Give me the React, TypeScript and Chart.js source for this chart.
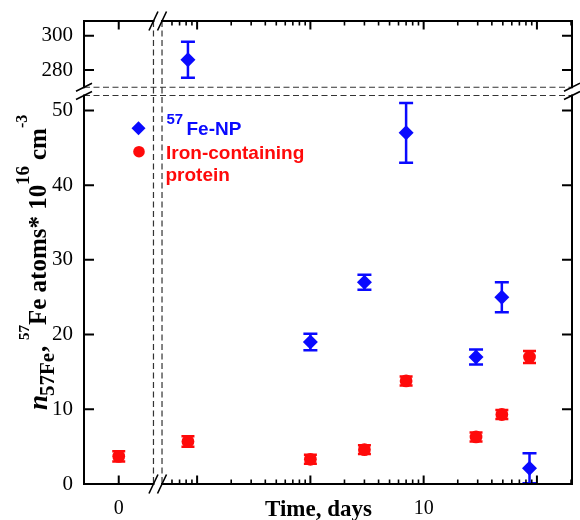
import { useEffect, useRef } from "react";
import { Chart, registerables } from "chart.js";

Chart.register(...registerables);

// ---------- data ----------
const npDays = [0.083, 1, 3, 7, 29, 49, 86];
const npValues = [286, 19, 27, 47, 17, 25, 2.1];
const npErrors = [10.5, 1.1, 1.0, 4.0, 1.0, 2.0, 2.0];

const proteinDays = [0, 0.083, 1, 3, 7, 29, 49, 86];
const proteinValues = [3.7, 5.7, 3.3, 4.6, 13.8, 6.3, 9.3, 17.0];
const proteinErrors = [0.7, 0.7, 0.6, 0.6, 0.6, 0.6, 0.6, 0.8];

const yTopTicks = [280, 300];
const yBottomTicks = [0, 10, 20, 30, 40, 50];
const xLinearTicks = [0];
const xLinearTickLabels = ["0"];
const xLogTicks = [0.1, 1, 10, 100];
const xLogTickLabels = ["", "", "10", ""];

const legendNpSup = "57";
const legendNpText = "Fe-NP";
const legendProteinLines = ["Iron-containing", "protein"];
const xTitle = "Time, days";

// axis ranges / breaks
const Y_TOP_MIN = 267.8;
const Y_TOP_MAX = 308.6;
const Y_TOP_BREAK = 270;
const Y_BOT_MIN = 0;
const Y_BOT_MAX = 52.6;
const Y_BOT_BREAK = 52;
const X_LIN_MIN = -1;
const X_LIN_MAX = 1.116;
const X_LIN_BREAK = 1;
const X_LOG_MIN = 0.0447;
const X_LOG_MAX = 204;
const X_LOG_BREAK = 0.049;
const Y_SPLIT = 100;

const BLUE = "#0a0aff";
const RED = "#ff0a0a";
const SERIF = '"Liberation Serif", "Times New Roman", serif';
const SANS = '"Liberation Sans", Arial, sans-serif';

type P = { x: number; y: number; e: number };
const npPoints: P[] = npDays.map((d, i) => ({ x: d, y: npValues[i], e: npErrors[i] }));
const proteinPoints: P[] = proteinDays.map((d, i) => ({ x: d, y: proteinValues[i], e: proteinErrors[i] }));

const npMarker = { pointStyle: "rectRot", pointRadius: 7.5, pointHoverRadius: 7.5, backgroundColor: BLUE, borderColor: BLUE, borderWidth: 0, capHalf: 7 };
const proteinMarker = { pointStyle: "circle", pointRadius: 6.4, pointHoverRadius: 6.4, backgroundColor: RED, borderColor: RED, borderWidth: 0, capHalf: 6.5 };

const datasets: any[] = [
  { label: "np-top", data: npPoints.filter((p) => p.y > Y_SPLIT), xAxisID: "xlog", yAxisID: "ytop", ...npMarker },
  { label: "np-bottom", data: npPoints.filter((p) => p.y <= Y_SPLIT), xAxisID: "xlog", yAxisID: "ybot", ...npMarker },
  { label: "protein-zero", data: proteinPoints.filter((p) => p.x === 0), xAxisID: "xlin", yAxisID: "ybot", ...proteinMarker },
  { label: "protein-log", data: proteinPoints.filter((p) => p.x > 0), xAxisID: "xlog", yAxisID: "ybot", ...proteinMarker },
];

const framePlugin = {
  id: "brokenFrame",
  beforeDatasetsDraw(chart: any) {
    const ctx = chart.ctx as CanvasRenderingContext2D;
    const { left, right, top, bottom } = chart.chartArea;
    const s = chart.scales;
    const gx1 = s.xlin.getPixelForValue(X_LIN_BREAK);
    const gx2 = s.xlog.getPixelForValue(X_LOG_BREAK);
    const gy1 = s.ytop.getPixelForValue(Y_TOP_BREAK);
    const gy2 = s.ybot.getPixelForValue(Y_BOT_BREAK);
    ctx.save();
    ctx.setLineDash([6, 3.5]);
    ctx.lineWidth = 1.2;
    ctx.strokeStyle = "#333";
    ctx.beginPath();
    for (const gx of [gx1, gx2]) {
      ctx.moveTo(gx, top);
      ctx.lineTo(gx, bottom);
    }
    for (const gy of [gy1, gy2]) {
      ctx.moveTo(left, gy);
      ctx.lineTo(right, gy);
    }
    ctx.stroke();
    ctx.restore();

    // error bars
    ctx.save();
    ctx.beginPath();
    ctx.rect(left - 1, top - 1, right - left + 2, bottom - top + 2);
    ctx.clip();
    chart.data.datasets.forEach((ds: any, i: number) => {
      const meta = chart.getDatasetMeta(i);
      const xs = meta.xScale;
      const ys = meta.yScale;
      ctx.strokeStyle = ds.borderColor;
      ctx.lineWidth = 2.5;
      ds.data.forEach((p: P) => {
        const px = xs.getPixelForValue(p.x);
        const y1 = ys.getPixelForValue(p.y + p.e);
        const y2 = ys.getPixelForValue(p.y - p.e);
        const h = ds.capHalf;
        ctx.beginPath();
        ctx.moveTo(px, y1);
        ctx.lineTo(px, y2);
        ctx.moveTo(px - h, y1);
        ctx.lineTo(px + h, y1);
        ctx.moveTo(px - h, y2);
        ctx.lineTo(px + h, y2);
        ctx.stroke();
      });
    });
    ctx.restore();
  },
  afterDraw(chart: any) {
    const ctx = chart.ctx as CanvasRenderingContext2D;
    const { left, right, top, bottom } = chart.chartArea;
    const s = chart.scales;
    const gx1 = s.xlin.getPixelForValue(X_LIN_BREAK);
    const gx2 = s.xlog.getPixelForValue(X_LOG_BREAK);
    const gy1 = s.ytop.getPixelForValue(Y_TOP_BREAK);
    const gy2 = s.ybot.getPixelForValue(Y_BOT_BREAK);

    ctx.save();
    ctx.strokeStyle = "#000";
    ctx.lineWidth = 2;
    ctx.lineCap = "square";
    ctx.beginPath();
    for (const x of [left, right]) {
      ctx.moveTo(x, top);
      ctx.lineTo(x, gy1);
      ctx.moveTo(x, gy2);
      ctx.lineTo(x, bottom);
    }
    for (const y of [top, bottom]) {
      ctx.moveTo(left, y);
      ctx.lineTo(gx1, y);
      ctx.moveTo(gx2, y);
      ctx.lineTo(right, y);
    }
    ctx.stroke();

    // ticks (inward, mirrored)
    ctx.lineCap = "butt";
    ctx.lineWidth = 2;
    ctx.beginPath();
    const yTick = 10;
    const yt = (scale: any, vals: number[]) => {
      for (const v of vals) {
        const py = scale.getPixelForValue(v);
        ctx.moveTo(left, py);
        ctx.lineTo(left + yTick, py);
        ctx.moveTo(right, py);
        ctx.lineTo(right - yTick, py);
      }
    };
    yt(s.ytop, yTopTicks);
    yt(s.ybot, yBottomTicks);
    const xt = (px: number, len: number) => {
      ctx.moveTo(px, bottom);
      ctx.lineTo(px, bottom - len);
      ctx.moveTo(px, top);
      ctx.lineTo(px, top + len);
    };
    for (const v of xLinearTicks) xt(s.xlin.getPixelForValue(v), 8.5);
    for (const v of xLogTicks) xt(s.xlog.getPixelForValue(v), 8.5);
    ctx.stroke();
    ctx.lineWidth = 1.6;
    ctx.beginPath();
    for (const dec of [0.01, 0.1, 1, 10, 100]) {
      for (let k = 2; k <= 9; k++) {
        const v = dec * k;
        if (v < X_LOG_MIN || v > X_LOG_MAX) continue;
        const px = s.xlog.getPixelForValue(v);
        if (px < gx2 + 4) continue;
        xt(px, 4.5);
      }
    }
    ctx.stroke();

    // break marks
    ctx.lineWidth = 1.6;
    ctx.beginPath();
    for (const x of [left, right]) {
      for (const y of [gy1, gy2]) {
        ctx.moveTo(x - 8, y + 4);
        ctx.lineTo(x + 8, y - 4);
      }
    }
    for (const y of [top, bottom]) {
      for (const x of [gx1, gx2]) {
        ctx.moveTo(x - 4.5, y + 9.5);
        ctx.lineTo(x + 4.5, y - 9.5);
      }
    }
    ctx.stroke();

    // legend
    ctx.fillStyle = BLUE;
    ctx.beginPath();
    const lx = 138.5, ly1 = 128.3;
    ctx.moveTo(lx - 7, ly1);
    ctx.lineTo(lx, ly1 - 7);
    ctx.lineTo(lx + 7, ly1);
    ctx.lineTo(lx, ly1 + 7);
    ctx.closePath();
    ctx.fill();
    ctx.textAlign = "left";
    ctx.textBaseline = "alphabetic";
    ctx.font = `bold 15px ${SANS}`;
    ctx.fillText(legendNpSup, 166.5, 123.5);
    ctx.font = `bold 19px ${SANS}`;
    ctx.fillText(legendNpText, 186.5, 135);
    ctx.fillStyle = RED;
    ctx.beginPath();
    ctx.arc(139, 151.7, 5.8, 0, Math.PI * 2);
    ctx.fill();
    ctx.font = `bold 19px ${SANS}`;
    ctx.fillText(legendProteinLines[0], 166, 159);
    ctx.fillText(legendProteinLines[1], 165.5, 181);

    // x title
    ctx.fillStyle = "#000";
    ctx.textAlign = "center";
    ctx.font = `bold 23px ${SERIF}`;
    ctx.fillText(xTitle, 318.5, 516);

    // y title (rotated, rich text)
    ctx.save();
    ctx.rotate(-Math.PI / 2);
    ctx.textAlign = "left";
    const seg = (text: string, startY: number, baseX: number, font: string) => {
      ctx.font = font;
      ctx.fillText(text, -startY, baseX);
    };
    seg("n", 410, 47, `italic bold 27px ${SERIF}`);
    seg("57Fe", 396, 54, `bold 21px ${SERIF}`);
    seg(",", 352, 46, `bold 25px ${SERIF}`);
    seg("57", 340, 29, `bold 15px ${SERIF}`);
    seg("Fe atoms* 10", 325, 46, `bold 25px ${SERIF}`);
    seg("16", 185, 29, `bold 19px ${SERIF}`);
    seg("cm", 160, 46, `bold 25px ${SERIF}`);
    seg("-3", 128, 27, `bold 16px ${SERIF}`);
    ctx.restore();

    ctx.restore();
  },
};

const hiddenGrid = { display: false, drawTicks: false, tickLength: 0 };
const hiddenBorder = { display: false };

const fitX = (sc: any) => {
  sc.height = 36;
  sc.paddingLeft = 0;
  sc.paddingRight = 0;
  sc.paddingTop = 0;
  sc.paddingBottom = 0;
};
const fitY = (sc: any) => {
  sc.width = 84;
  sc.paddingLeft = 0;
  sc.paddingRight = 0;
  sc.paddingTop = 0;
  sc.paddingBottom = 0;
};

export default function App() {
  const ref = useRef<HTMLCanvasElement>(null);
  useEffect(() => {
    const canvas = ref.current;
    if (!canvas) return;
    const chart = new Chart(canvas, {
      type: "scatter",
      data: { datasets },
      plugins: [framePlugin],
      options: {
        responsive: false,
        animation: false,
        devicePixelRatio: 1,
        layout: { padding: { top: 21, right: 8, left: 0, bottom: 0 } },
        plugins: { legend: { display: false }, tooltip: { enabled: false } },
        scales: {
          xlin: {
            type: "linear",
            position: "bottom",
            stack: "x",
            stackWeight: 73.5,
            weight: 1,
            min: X_LIN_MIN,
            max: X_LIN_MAX,
            grid: hiddenGrid,
            border: hiddenBorder,
            afterBuildTicks: (sc: any) => {
              sc.ticks = xLinearTicks.map((v) => ({ value: v }));
            },
            afterFit: fitX,
            ticks: {
              autoSkip: false,
              maxRotation: 0,
              padding: 13,
              color: "#000",
              font: { family: SERIF, size: 20 },
              callback: (v: any) => {
                const i = xLinearTicks.indexOf(Number(v));
                return i >= 0 ? xLinearTickLabels[i] : "";
              },
            },
          },
          xlog: {
            type: "logarithmic",
            position: "bottom",
            stack: "x",
            stackWeight: 414.5,
            weight: 2,
            min: X_LOG_MIN,
            max: X_LOG_MAX,
            grid: hiddenGrid,
            border: hiddenBorder,
            afterBuildTicks: (sc: any) => {
              sc.ticks = xLogTicks.map((v) => ({ value: v }));
            },
            afterFit: fitX,
            ticks: {
              autoSkip: false,
              maxRotation: 0,
              padding: 13,
              color: "#000",
              font: { family: SERIF, size: 20 },
              callback: (v: any) => {
                const i = xLogTicks.findIndex((t) => Math.abs(t - Number(v)) < 1e-9 * t);
                return i >= 0 ? xLogTickLabels[i] : "";
              },
            },
          },
          ytop: {
            type: "linear",
            position: "left",
            stack: "y",
            stackWeight: 70,
            weight: 2,
            min: Y_TOP_MIN,
            max: Y_TOP_MAX,
            grid: hiddenGrid,
            border: hiddenBorder,
            afterBuildTicks: (sc: any) => {
              sc.ticks = yTopTicks.map((v) => ({ value: v }));
            },
            afterFit: fitY,
            ticks: {
              autoSkip: false,
              padding: 11,
              color: "#000",
              font: { family: SERIF, size: 21 },
              callback: (v: any) => String(v),
            },
          },
          ybot: {
            type: "linear",
            position: "left",
            stack: "y",
            stackWeight: 393,
            weight: 1,
            min: Y_BOT_MIN,
            max: Y_BOT_MAX,
            grid: hiddenGrid,
            border: hiddenBorder,
            afterBuildTicks: (sc: any) => {
              sc.ticks = yBottomTicks.map((v) => ({ value: v }));
            },
            afterFit: fitY,
            ticks: {
              autoSkip: false,
              padding: 11,
              color: "#000",
              font: { family: SERIF, size: 21 },
              callback: (v: any) => String(v),
            },
          },
        },
      } as any,
    });
    return () => chart.destroy();
  }, []);
  return (
    <div style={{ position: "fixed", left: 0, top: 0, width: 580, height: 520, background: "#fff" }}>
      <canvas ref={ref} width={580} height={520} style={{ display: "block", width: 580, height: 520 }} />
    </div>
  );
}
